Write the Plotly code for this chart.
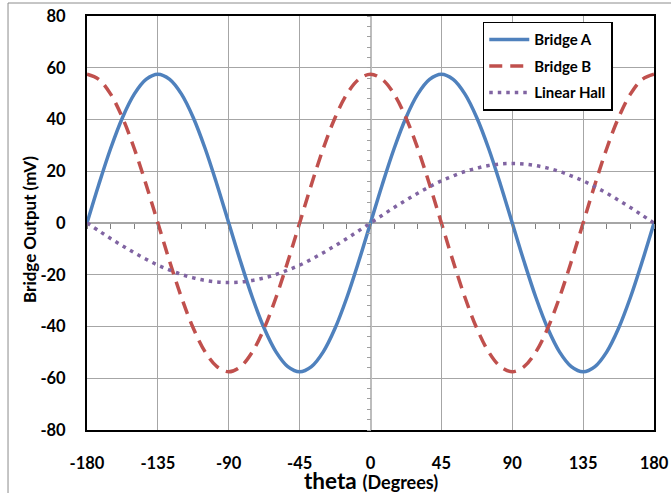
import plotly.graph_objects as go

theta = [-180, -172.5, -165, -157.5, -150, -142.5, -135, -127.5, -120, -112.5, -105, -97.5,
         -90, -82.5, -75, -67.5, -60, -52.5, -45, -37.5, -30, -22.5, -15, -7.5,
         0, 7.5, 15, 22.5, 30, 37.5, 45, 52.5, 60, 67.5, 75, 82.5,
         90, 97.5, 105, 112.5, 120, 127.5, 135, 142.5, 150, 157.5, 165, 172.5, 180]

bridge_a = [0, 14.9, 28.8, 40.7, 49.8, 55.5, 57.5, 55.5, 49.8, 40.7, 28.8, 14.9,
            0, -14.9, -28.8, -40.7, -49.8, -55.5, -57.5, -55.5, -49.8, -40.7, -28.8, -14.9,
            0, 14.9, 28.8, 40.7, 49.8, 55.5, 57.5, 55.5, 49.8, 40.7, 28.8, 14.9,
            0, -14.9, -28.8, -40.7, -49.8, -55.5, -57.5, -55.5, -49.8, -40.7, -28.8, -14.9, 0]

bridge_b = [57.5, 55.5, 49.8, 40.7, 28.8, 14.9, 0, -14.9, -28.8, -40.7, -49.8, -55.5,
            -57.5, -55.5, -49.8, -40.7, -28.8, -14.9, 0, 14.9, 28.8, 40.7, 49.8, 55.5,
            57.5, 55.5, 49.8, 40.7, 28.8, 14.9, 0, -14.9, -28.8, -40.7, -49.8, -55.5,
            -57.5, -55.5, -49.8, -40.7, -28.8, -14.9, 0, 14.9, 28.8, 40.7, 49.8, 55.5, 57.5]

linear_hall = [0, -3.0, -6.0, -8.8, -11.5, -14.0, -16.3, -18.2, -19.9, -21.2, -22.2, -22.8,
               -23.0, -22.8, -22.2, -21.2, -19.9, -18.2, -16.3, -14.0, -11.5, -8.8, -6.0, -3.0,
               0, 3.0, 6.0, 8.8, 11.5, 14.0, 16.3, 18.2, 19.9, 21.2, 22.2, 22.8,
               23.0, 22.8, 22.2, 21.2, 19.9, 18.2, 16.3, 14.0, 11.5, 8.8, 6.0, 3.0, 0]

x_ticks = [-180, -135, -90, -45, 0, 45, 90, 135, 180]
y_ticks = [-80, -60, -40, -20, 0, 20, 40, 60, 80]

FONT = "Lato"

fig = go.Figure()
fig.add_trace(go.Scatter(x=theta, y=bridge_a, mode="lines", name="<b>Bridge A</b>",
                         line=dict(color="#4F81BD", width=3.5, shape="spline", smoothing=1),
                         legendgroup="a"))
fig.add_trace(go.Scatter(x=theta, y=bridge_b, mode="lines", name="<b>Bridge B</b>",
                         line=dict(color="#C0504D", width=3.5, dash="13px,8px",
                                   shape="spline", smoothing=1),
                         legendgroup="b"))
fig.add_trace(go.Scatter(x=theta, y=linear_hall, mode="lines", name="<b>Linear Hall</b>",
                         line=dict(color="#8064A2", width=3.5, dash="3.5px,5px",
                                   shape="spline", smoothing=1),
                         legendgroup="c"))
# helper trace for the zero-crossing tick axes
fig.add_trace(go.Scatter(x=[None], y=[None], xaxis="x2", yaxis="y2", showlegend=False,
                         hoverinfo="skip"))

fig.update_layout(
    width=671, height=493,
    margin=dict(l=87, r=17, t=16, b=63, autoexpand=False),
    paper_bgcolor="white", plot_bgcolor="white",
    font=dict(family=FONT, color="black"),
    showlegend=True,
    legend=dict(x=0.698, y=0.986, xanchor="left", yanchor="top",
                bgcolor="white", bordercolor="black", borderwidth=1.5,
                font=dict(family=FONT, size=15, color="black"),
                tracegroupgap=4, itemwidth=40),
    xaxis=dict(range=[-180, 180], tickvals=x_ticks, ticktext=[str(v) for v in x_ticks],
               showgrid=True, gridcolor="#a6a6a6", gridwidth=1,
               showline=True, linecolor="black", linewidth=2, mirror=True,
               zeroline=True, zerolinecolor="#bdbdbd", zerolinewidth=2,
               ticks="", tickfont=dict(family=FONT, size=16.5, color="black", weight="bold"),
               ticklabelstandoff=17, automargin=False),
    yaxis=dict(range=[-80, 80], tickvals=y_ticks, ticktext=[str(v) for v in y_ticks],
               showgrid=True, gridcolor="#a6a6a6", gridwidth=1,
               showline=True, linecolor="black", linewidth=2, mirror=True,
               zeroline=True, zerolinecolor="#a6a6a6", zerolinewidth=1.5,
               ticks="", tickfont=dict(family=FONT, size=16.5, color="black", weight="bold"),
               ticklabelstandoff=16, automargin=False),
    xaxis2=dict(overlaying="x", anchor="free", position=0.5, range=[-180, 180],
                tick0=0, dtick=15, ticks="outside", ticklen=5, tickcolor="#7f7f7f",
                tickwidth=1, showticklabels=False, showgrid=False, showline=False,
                zeroline=False, automargin=False),
    yaxis2=dict(overlaying="y", anchor="free", position=0.5, range=[-80, 80],
                tick0=0, dtick=4, ticks="outside", ticklen=4, tickcolor="#9f9f9f",
                tickwidth=1, showticklabels=False, showgrid=False, showline=False,
                zeroline=False, automargin=False),
    annotations=[
        dict(text="<b>theta</b> <b><span style='font-size:18px'>(Degrees)</span></b>",
             xref="paper", yref="paper", x=0.5, y=-0.1208, xanchor="center", yanchor="middle",
             showarrow=False, font=dict(family=FONT, size=22.5, color="black")),
        dict(text="<b>Bridge Output (mV)</b>", textangle=-90,
             xref="paper", yref="paper", x=-0.1023, y=0.4855, xanchor="center", yanchor="middle",
             showarrow=False, font=dict(family=FONT, size=17, color="black")),
    ],
    shapes=[
        dict(type="line", xref="paper", yref="paper", x0=-0.1393, x1=1.04, y0=1.0314, y1=1.0314,
             line=dict(color="#8c8c8c", width=1)),
        dict(type="line", xref="paper", yref="paper", x0=-0.1393, x1=-0.1393, y0=1.0314, y1=-0.2,
             line=dict(color="#8c8c8c", width=1)),
    ],
)

fig.write_html("out.html", config={"displayModeBar": False},
               post_script="document.body.style.margin='0';")
